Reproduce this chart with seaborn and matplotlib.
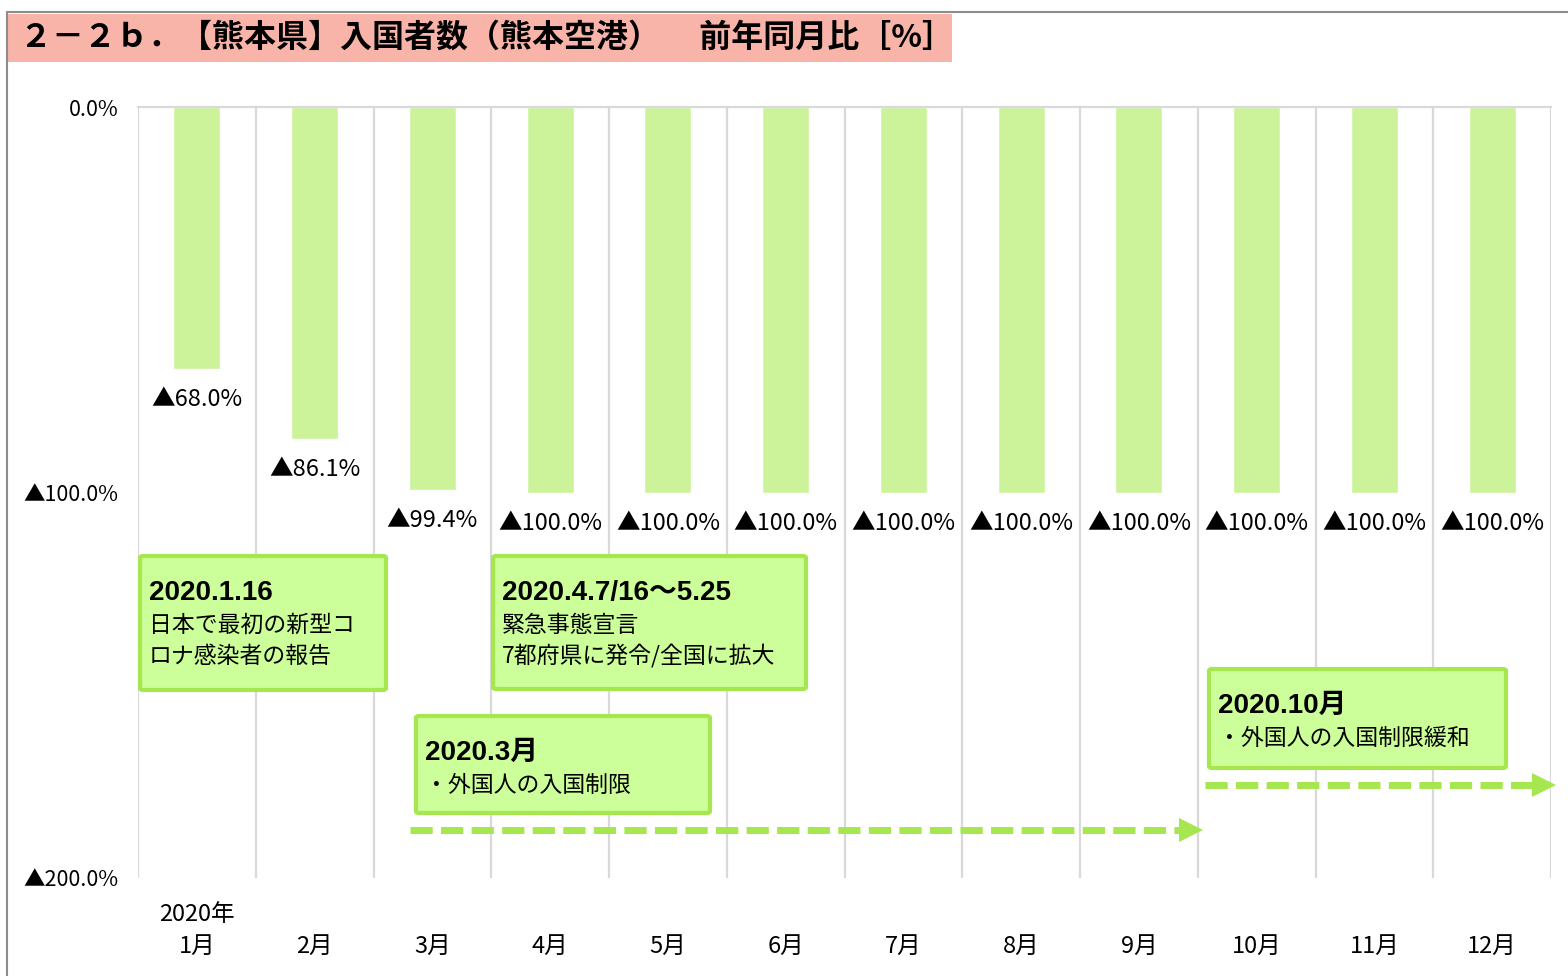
import matplotlib
matplotlib.use("Agg")
import matplotlib.pyplot as plt
import seaborn as sns
from matplotlib.patches import Rectangle, FancyBboxPatch, Polygon
from matplotlib.lines import Line2D
import matplotlib.transforms as mtransforms

months = ["1月", "2月", "3月", "4月", "5月", "6月", "7月", "8月", "9月", "10月", "11月", "12月"]
yoy_change = [-68.0, -86.1, -99.4, -100.0, -100.0, -100.0, -100.0, -100.0, -100.0, -100.0, -100.0, -100.0]
y_ticks = [0, -100, -200]
y_tick_labels = ["0.0%", "▲100.0%", "▲200.0%"]

title = "２－２ｂ．【熊本県】入国者数（熊本空港）　 前年同月比［%］"

sns.set_style("white")
plt.rcParams["font.family"] = ["Noto Sans CJK JP", "DejaVu Sans"]
plt.rcParams["text.color"] = "black"
plt.rcParams["xtick.color"] = "black"
plt.rcParams["ytick.color"] = "black"

W, H = 1568, 976
fig = plt.figure(figsize=(W / 100, H / 100), dpi=100)
ax = fig.add_axes([138 / W, 1 - 878 / H, (1551 - 138) / W, (878 - 107) / H])

bar_color = "#CCF29A"
sns.barplot(x=months, y=yoy_change, color=bar_color, width=0.4, saturation=1, ax=ax, zorder=2)

ax.set_xlim(-0.5, len(months) - 0.5)
ax.set_ylim(-200, 0)
ax.set_yticks(y_ticks)
ax.set_yticklabels(y_tick_labels, fontsize=15.5)
ax.set_xticks(range(len(months)))
ax.set_xticklabels(months, fontsize=17)
ax.tick_params(axis="y", length=0, pad=14)
ax.tick_params(axis="x", length=0, pad=41)

# category separators
ax.set_xticks([i - 0.5 for i in range(len(months) + 1)], minor=True)
ax.tick_params(axis="x", which="minor", length=0)
ax.grid(axis="x", which="minor", color="#D9D9D9", linewidth=1.6, zorder=0)
ax.grid(axis="x", which="major", visible=False)
for side in ["left", "right", "bottom"]:
    ax.spines[side].set_visible(False)
ax.spines["top"].set_color("#D9D9D9")
ax.spines["top"].set_linewidth(1.6)

for i, v in enumerate(yoy_change):
    ax.annotate(f"▲{abs(v):.1f}%", xy=(i, v), xytext=(0, -22), textcoords="offset points",
                ha="center", va="center", fontsize=17)

trans = mtransforms.blended_transform_factory(ax.transData, ax.transAxes)
ax.text(0, -0.047, "2020年", transform=trans, ha="center", va="center", fontsize=17)


def fx(x):
    return x / W


def fy(y):
    return 1 - y / H


# outer frame and title band
fig.add_artist(Line2D([fx(7), fx(7)], [fy(12), 0], color="#8C8C8C", lw=1.5))
fig.add_artist(Line2D([fx(7), 1], [fy(12), fy(12)], color="#8C8C8C", lw=1.5))
fig.add_artist(Rectangle((fx(8), fy(62)), fx(952 - 8), (62 - 14) / H, transform=fig.transFigure,
                         facecolor="#F8B4A8", edgecolor="none"))
fig.text(fx(20), fy(38), title, fontsize=23, fontweight="bold", va="center", ha="left")

# event boxes
box_edge = "#A6E64E"
box_face = "#CCFF99"
events = [
    ((140, 556, 386, 690), "2020.1.16", ["日本で最初の新型コ", "ロナ感染者の報告"]),
    ((493, 556, 806, 689), "2020.4.7/16～5.25", ["緊急事態宣言", "7都府県に発令/全国に拡大"]),
    ((416, 716, 710, 813), "2020.3月", ["・外国人の入国制限"]),
    ((1209, 669, 1506, 768), "2020.10月", ["・外国人の入国制限緩和"]),
]
for (x0, y0, x1, y1), head, lines in events:
    fig.add_artist(FancyBboxPatch((fx(x0), fy(y1)), fx(x1 - x0), (y1 - y0) / H,
                                  boxstyle="round,pad=0,rounding_size=0.002",
                                  transform=fig.transFigure, facecolor=box_face,
                                  edgecolor=box_edge, linewidth=3, zorder=5))
    fig.text(fx(x0 + 9), fy(y0 + 37), head, fontsize=20, fontweight="bold",
             family=["Liberation Sans", "Noto Sans CJK JP"], va="center", ha="left", zorder=6)
    for k, line in enumerate(lines):
        fig.text(fx(x0 + 9), fy(y0 + 69 + 31 * k), line, fontsize=16.5, va="center", ha="left", zorder=6)

# dashed period arrows
arrow_color = "#A6E64E"
for xs, xe, y in [(410, 1203, 830), (1205, 1556, 785)]:
    fig.add_artist(Line2D([fx(xs), fx(xe - 24)], [fy(y), fy(y)], color=arrow_color, lw=5,
                          linestyle=(0, (3.2, 1.2)), zorder=5))
    fig.add_artist(Polygon([(fx(xe - 24), fy(y - 12)), (fx(xe), fy(y)), (fx(xe - 24), fy(y + 12))],
                           closed=True, transform=fig.transFigure, facecolor=arrow_color,
                           edgecolor="none", zorder=5))

fig.savefig("out.png", dpi=100)
